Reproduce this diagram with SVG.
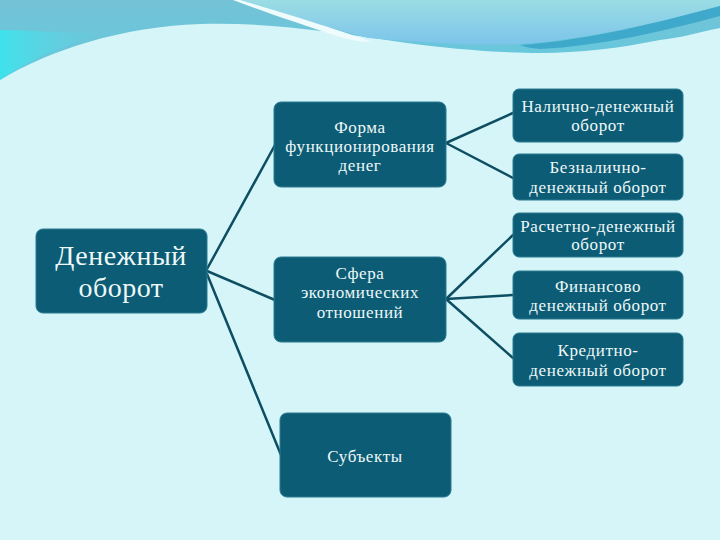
<svg xmlns="http://www.w3.org/2000/svg" width="720" height="540" viewBox="0 0 720 540">
<defs>
<linearGradient id="bgTop" x1="0" y1="0" x2="0" y2="1">
<stop offset="0" stop-color="#74c2d6"/>
<stop offset="1" stop-color="#62cade"/>
</linearGradient>
<linearGradient id="lightBlob" x1="0" y1="0" x2="0" y2="1">
<stop offset="0" stop-color="#9adde4"/>
<stop offset="1" stop-color="#7cc4ea"/>
</linearGradient>
<linearGradient id="leftEdge" x1="0" y1="0" x2="1" y2="0">
<stop offset="0" stop-color="#3ee2ec"/>
<stop offset="1" stop-color="#6cd0e0" stop-opacity="0"/>
</linearGradient>
<style>
.box{fill:#0c5c75;stroke:#2b7a90;stroke-width:1}
.t{fill:#eef8f8;text-anchor:middle}
.s{font-size:17px;letter-spacing:0.6px}
.m{font-size:28px;letter-spacing:0.5px}
.c{stroke:#0e4e62;stroke-width:2.5;fill:none;stroke-linecap:round}
</style>
</defs>
<rect width="720" height="540" fill="#d5f5f9"/>
<g id="background-wave">
<path d="M0,0 H720 V28 C700,32 680,38 660,40 C620,48 580,53 540,53 C500,53 450,49 400,42 C330,32 270,22 200,24 C120,27 50,50 0,80 Z" fill="url(#bgTop)"/>
<path d="M0,30 C40,30 80,35 110,32 C60,45 30,60 0,80 Z" fill="url(#leftEdge)"/>
<path d="M236,0 H720 V6 C650,25 580,40 520,44 C470,46 420,42 368,38 C320,25 275,12 236,0 Z" fill="url(#lightBlob)"/>
<path d="M233,0 H240 C290,15 340,30 372,42 C362,42 350,40 340,37 C300,24 265,12 233,0 Z" fill="#f0fbfd"/>
<path d="M520,45 C590,40 660,22 720,6 V16 C660,32 600,46 540,49 C530,48 525,47 520,45 Z" fill="#3fa9cc"/>
</g>
<g id="connectors">
<line class="c" x1="207" y1="269" x2="275" y2="145"/>
<line class="c" x1="207" y1="271" x2="275" y2="300"/>
<line class="c" x1="207" y1="274" x2="281" y2="455"/>
<line class="c" x1="446" y1="143" x2="513" y2="113"/>
<line class="c" x1="446" y1="143" x2="513" y2="178"/>
<line class="c" x1="446" y1="299" x2="513" y2="235"/>
<line class="c" x1="446" y1="299" x2="513" y2="295"/>
<line class="c" x1="446" y1="299" x2="513" y2="358"/>
</g>
<g font-family="Liberation Serif, DejaVu Serif, Times New Roman, serif">
<g id="node-main">
<rect class="box" x="36" y="229" width="171" height="84" rx="7"/>
<text class="t m" x="121" y="265">Денежный</text>
<text class="t m" x="121" y="297">оборот</text>
</g>
<g id="node-forma">
<rect class="box" x="274" y="102" width="172" height="85" rx="7"/>
<text class="t s" x="360" y="133">Форма</text>
<text class="t s" x="360" y="152">функционирования</text>
<text class="t s" x="360" y="171">денег</text>
</g>
<g id="node-sfera">
<rect class="box" x="274" y="257" width="172" height="85" rx="7"/>
<text class="t s" x="360" y="279">Сфера</text>
<text class="t s" x="360" y="298">экономических</text>
<text class="t s" x="360" y="318">отношений</text>
</g>
<g id="node-subekty">
<rect class="box" x="280" y="413" width="171" height="84" rx="7"/>
<text class="t s" x="365" y="462">Субъекты</text>
</g>
<g id="node-nalichno">
<rect class="box" x="513" y="89" width="170" height="53" rx="6"/>
<text class="t s" x="598" y="112">Налично-денежный</text>
<text class="t s" x="598" y="131">оборот</text>
</g>
<g id="node-beznalichno">
<rect class="box" x="513" y="154" width="170" height="46" rx="6"/>
<text class="t s" x="598" y="173">Безналично-</text>
<text class="t s" x="598" y="193">денежный оборот</text>
</g>
<g id="node-raschetno">
<rect class="box" x="513" y="213" width="170" height="44" rx="6"/>
<text class="t s" x="598" y="232">Расчетно-денежный</text>
<text class="t s" x="598" y="250">оборот</text>
</g>
<g id="node-finansovo">
<rect class="box" x="513" y="271" width="170" height="48" rx="6"/>
<text class="t s" x="598" y="292">Финансово</text>
<text class="t s" x="598" y="311">денежный оборот</text>
</g>
<g id="node-kreditno">
<rect class="box" x="513" y="333" width="170" height="53" rx="6"/>
<text class="t s" x="598" y="356">Кредитно-</text>
<text class="t s" x="598" y="376">денежный оборот</text>
</g>
</g>
</svg>
